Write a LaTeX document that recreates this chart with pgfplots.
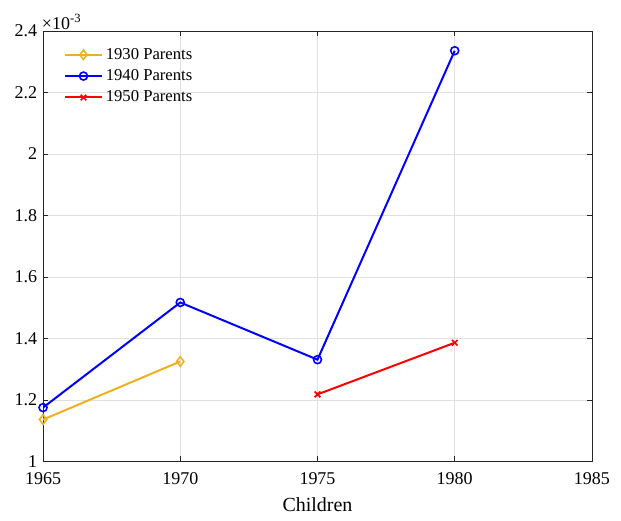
\documentclass[border=0pt]{standalone}
\usepackage{pgfplots}
\pgfplotsset{compat=1.18}
\usepackage{fontspec}
\setmainfont{Liberation Serif}
\definecolor{myyellow}{rgb}{0.929,0.694,0.125}
\begin{document}
\begin{tikzpicture}
\begin{axis}[
    scale only axis,
    width=412pt, height=323pt,
    font=\fontsize{13.5}{15}\selectfont,
    xmin=1965, xmax=1985,
    ymin=1e-3, ymax=2.4e-3,
    xtick={1965,1970,1975,1980,1985},
    ytick={1e-3,1.2e-3,1.4e-3,1.6e-3,1.8e-3,2e-3,2.2e-3,2.4e-3},
    scaled y ticks=base 10:3,
    ytick scale label code/.code={×10\textsuperscript{-3}},
    every y tick scale label/.style={at={(rel axis cs:0,1)}, anchor=south west, inner sep=1pt, xshift=-1pt},
    /pgf/number format/assume math mode=true,
    xticklabel style={/pgf/number format/1000 sep={}, yshift=-5pt},
    yticklabel style={/pgf/number format/fixed, xshift=-1pt},
    xlabel={Children},
    xlabel style={font=\fontsize{15}{17}\selectfont, yshift=-3pt},
    grid=major,
    major grid style={line width=0.5pt, draw=black!12},
    axis line style={black!85, line width=0.5pt},
    tick style={black!85, line width=0.5pt},
    major tick length=4pt,
    tick align=inside,
    legend style={draw=none, fill=none, at={(rel axis cs:0.035,0.97)}, anchor=north west,
        font=\fontsize{12.5}{14}\selectfont, row sep=2.2pt, inner sep=1pt},
    legend cell align=left,
    legend image code/.code={\draw[mark repeat=2,mark phase=2,#1] plot coordinates {(0pt,0pt)(14pt,0pt)(28pt,0pt)};},
]
\addplot[color=myyellow, line width=1.5pt, mark=diamond, mark size=3.6pt, mark options={line width=1.2pt}] coordinates {
    (1965,1.136e-3) (1970,1.325e-3)};
\addlegendentry{1930 Parents}
\addplot[color=blue, line width=1.5pt, mark=o, mark size=3pt, mark options={line width=1.2pt}] coordinates {
    (1965,1.175e-3) (1970,1.517e-3) (1975,1.331e-3) (1980,2.336e-3)};
\addlegendentry{1940 Parents}
\addplot[color=red, line width=1.5pt, mark=x, mark size=3pt, mark options={line width=1.2pt}] coordinates {
    (1975,1.218e-3) (1980,1.386e-3)};
\addlegendentry{1950 Parents}
\coordinate (sw) at (rel axis cs:0,0);
\coordinate (ne) at (rel axis cs:1,1);
\end{axis}
\path[use as bounding box] ([xshift=-32.3pt,yshift=-44.3pt]sw) rectangle ([xshift=21.8pt,yshift=23.3pt]ne);
\end{tikzpicture}
\end{document}
